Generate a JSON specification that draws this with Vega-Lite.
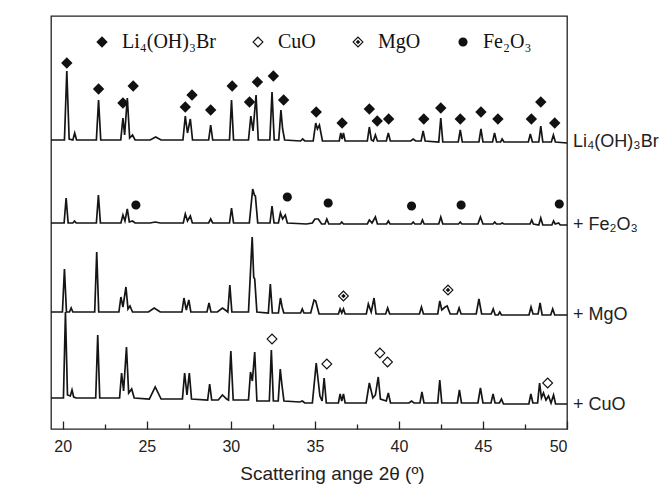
{
  "$schema": "https://vega.github.io/schema/vega-lite/v6.json",
  "autosize": "none",
  "width": 516,
  "height": 413,
  "padding": {"left": 51, "top": 16, "right": 101, "bottom": 56},
  "background": "white",
  "config": {
    "font": "Liberation Sans",
    "view": {"stroke": "#222", "strokeWidth": 1.3}
  },
  "datasets": {
    "traces": [
      {"sample":"Li4(OH)3Br","angle":19.3,"intensity":291},{"sample":"Li4(OH)3Br","angle":20.1,"intensity":291},{"sample":"Li4(OH)3Br","angle":20.24,"intensity":360},{"sample":"Li4(OH)3Br","angle":20.38,"intensity":292},{"sample":"Li4(OH)3Br","angle":20.6,"intensity":291},{"sample":"Li4(OH)3Br","angle":20.71,"intensity":298},{"sample":"Li4(OH)3Br","angle":20.82,"intensity":291},{"sample":"Li4(OH)3Br","angle":22.0,"intensity":291},{"sample":"Li4(OH)3Br","angle":22.13,"intensity":331},{"sample":"Li4(OH)3Br","angle":22.26,"intensity":291},{"sample":"Li4(OH)3Br","angle":23.45,"intensity":291},{"sample":"Li4(OH)3Br","angle":23.58,"intensity":313},{"sample":"Li4(OH)3Br","angle":23.68,"intensity":296},{"sample":"Li4(OH)3Br","angle":23.84,"intensity":333},{"sample":"Li4(OH)3Br","angle":23.98,"intensity":293},{"sample":"Li4(OH)3Br","angle":24.15,"intensity":296},{"sample":"Li4(OH)3Br","angle":24.3,"intensity":291},{"sample":"Li4(OH)3Br","angle":25.2,"intensity":291},{"sample":"Li4(OH)3Br","angle":25.53,"intensity":294},{"sample":"Li4(OH)3Br","angle":25.85,"intensity":291},{"sample":"Li4(OH)3Br","angle":27.15,"intensity":291},{"sample":"Li4(OH)3Br","angle":27.29,"intensity":315},{"sample":"Li4(OH)3Br","angle":27.42,"intensity":298},{"sample":"Li4(OH)3Br","angle":27.59,"intensity":312},{"sample":"Li4(OH)3Br","angle":27.72,"intensity":291},{"sample":"Li4(OH)3Br","angle":28.68,"intensity":291},{"sample":"Li4(OH)3Br","angle":28.8,"intensity":306},{"sample":"Li4(OH)3Br","angle":28.92,"intensity":291},{"sample":"Li4(OH)3Br","angle":29.92,"intensity":291},{"sample":"Li4(OH)3Br","angle":30.04,"intensity":331},{"sample":"Li4(OH)3Br","angle":30.16,"intensity":291},{"sample":"Li4(OH)3Br","angle":31.05,"intensity":291},{"sample":"Li4(OH)3Br","angle":31.19,"intensity":315},{"sample":"Li4(OH)3Br","angle":31.32,"intensity":300},{"sample":"Li4(OH)3Br","angle":31.5,"intensity":336},{"sample":"Li4(OH)3Br","angle":31.63,"intensity":291},{"sample":"Li4(OH)3Br","angle":32.32,"intensity":291},{"sample":"Li4(OH)3Br","angle":32.45,"intensity":339},{"sample":"Li4(OH)3Br","angle":32.58,"intensity":291},{"sample":"Li4(OH)3Br","angle":32.85,"intensity":291},{"sample":"Li4(OH)3Br","angle":32.98,"intensity":321},{"sample":"Li4(OH)3Br","angle":33.08,"intensity":302},{"sample":"Li4(OH)3Br","angle":33.2,"intensity":291},{"sample":"Li4(OH)3Br","angle":34.15,"intensity":290},{"sample":"Li4(OH)3Br","angle":34.27,"intensity":292},{"sample":"Li4(OH)3Br","angle":34.4,"intensity":290},{"sample":"Li4(OH)3Br","angle":34.9,"intensity":290},{"sample":"Li4(OH)3Br","angle":35.05,"intensity":308},{"sample":"Li4(OH)3Br","angle":35.15,"intensity":302},{"sample":"Li4(OH)3Br","angle":35.27,"intensity":306},{"sample":"Li4(OH)3Br","angle":35.45,"intensity":290},{"sample":"Li4(OH)3Br","angle":36.45,"intensity":290},{"sample":"Li4(OH)3Br","angle":36.54,"intensity":298},{"sample":"Li4(OH)3Br","angle":36.62,"intensity":292},{"sample":"Li4(OH)3Br","angle":36.7,"intensity":298},{"sample":"Li4(OH)3Br","angle":36.8,"intensity":290},{"sample":"Li4(OH)3Br","angle":38.12,"intensity":290},{"sample":"Li4(OH)3Br","angle":38.24,"intensity":304},{"sample":"Li4(OH)3Br","angle":38.36,"intensity":291},{"sample":"Li4(OH)3Br","angle":38.48,"intensity":290},{"sample":"Li4(OH)3Br","angle":38.6,"intensity":296},{"sample":"Li4(OH)3Br","angle":38.72,"intensity":290},{"sample":"Li4(OH)3Br","angle":39.25,"intensity":290},{"sample":"Li4(OH)3Br","angle":39.37,"intensity":298},{"sample":"Li4(OH)3Br","angle":39.49,"intensity":290},{"sample":"Li4(OH)3Br","angle":40.7,"intensity":290},{"sample":"Li4(OH)3Br","angle":40.85,"intensity":292},{"sample":"Li4(OH)3Br","angle":41.0,"intensity":290},{"sample":"Li4(OH)3Br","angle":41.32,"intensity":290},{"sample":"Li4(OH)3Br","angle":41.44,"intensity":300},{"sample":"Li4(OH)3Br","angle":41.56,"intensity":290},{"sample":"Li4(OH)3Br","angle":42.37,"intensity":289},{"sample":"Li4(OH)3Br","angle":42.49,"intensity":313},{"sample":"Li4(OH)3Br","angle":42.61,"intensity":289},{"sample":"Li4(OH)3Br","angle":43.53,"intensity":289},{"sample":"Li4(OH)3Br","angle":43.65,"intensity":301},{"sample":"Li4(OH)3Br","angle":43.77,"intensity":289},{"sample":"Li4(OH)3Br","angle":44.76,"intensity":289},{"sample":"Li4(OH)3Br","angle":44.88,"intensity":302},{"sample":"Li4(OH)3Br","angle":45.0,"intensity":289},{"sample":"Li4(OH)3Br","angle":45.57,"intensity":289},{"sample":"Li4(OH)3Br","angle":45.69,"intensity":298},{"sample":"Li4(OH)3Br","angle":45.81,"intensity":289},{"sample":"Li4(OH)3Br","angle":46.05,"intensity":289},{"sample":"Li4(OH)3Br","angle":46.14,"intensity":292},{"sample":"Li4(OH)3Br","angle":46.25,"intensity":289},{"sample":"Li4(OH)3Br","angle":47.7,"intensity":289},{"sample":"Li4(OH)3Br","angle":47.82,"intensity":297},{"sample":"Li4(OH)3Br","angle":47.94,"intensity":289},{"sample":"Li4(OH)3Br","angle":48.32,"intensity":289},{"sample":"Li4(OH)3Br","angle":48.44,"intensity":305},{"sample":"Li4(OH)3Br","angle":48.56,"intensity":289},{"sample":"Li4(OH)3Br","angle":49.07,"intensity":289},{"sample":"Li4(OH)3Br","angle":49.19,"intensity":296},{"sample":"Li4(OH)3Br","angle":49.31,"intensity":289},{"sample":"Li4(OH)3Br","angle":50.0,"intensity":288},

      {"sample":"+Fe2O3","angle":19.3,"intensity":208},{"sample":"+Fe2O3","angle":20.08,"intensity":208},{"sample":"+Fe2O3","angle":20.2,"intensity":233},{"sample":"+Fe2O3","angle":20.32,"intensity":208},{"sample":"+Fe2O3","angle":20.6,"intensity":208},{"sample":"+Fe2O3","angle":20.7,"intensity":210},{"sample":"+Fe2O3","angle":20.8,"intensity":208},{"sample":"+Fe2O3","angle":22.0,"intensity":208},{"sample":"+Fe2O3","angle":22.12,"intensity":236},{"sample":"+Fe2O3","angle":22.24,"intensity":208},{"sample":"+Fe2O3","angle":23.46,"intensity":208},{"sample":"+Fe2O3","angle":23.58,"intensity":216},{"sample":"+Fe2O3","angle":23.7,"intensity":210},{"sample":"+Fe2O3","angle":23.84,"intensity":222},{"sample":"+Fe2O3","angle":23.96,"intensity":209},{"sample":"+Fe2O3","angle":24.15,"intensity":210},{"sample":"+Fe2O3","angle":24.3,"intensity":208},{"sample":"+Fe2O3","angle":25.2,"intensity":208},{"sample":"+Fe2O3","angle":25.5,"intensity":209},{"sample":"+Fe2O3","angle":25.8,"intensity":208},{"sample":"+Fe2O3","angle":27.17,"intensity":208},{"sample":"+Fe2O3","angle":27.29,"intensity":217},{"sample":"+Fe2O3","angle":27.42,"intensity":210},{"sample":"+Fe2O3","angle":27.59,"intensity":215},{"sample":"+Fe2O3","angle":27.71,"intensity":208},{"sample":"+Fe2O3","angle":28.68,"intensity":208},{"sample":"+Fe2O3","angle":28.8,"intensity":212},{"sample":"+Fe2O3","angle":28.92,"intensity":208},{"sample":"+Fe2O3","angle":29.92,"intensity":208},{"sample":"+Fe2O3","angle":30.04,"intensity":223},{"sample":"+Fe2O3","angle":30.16,"intensity":208},{"sample":"+Fe2O3","angle":31.1,"intensity":208},{"sample":"+Fe2O3","angle":31.3,"intensity":242},{"sample":"+Fe2O3","angle":31.4,"intensity":236},{"sample":"+Fe2O3","angle":31.46,"intensity":235},{"sample":"+Fe2O3","angle":31.6,"intensity":208},{"sample":"+Fe2O3","angle":32.33,"intensity":208},{"sample":"+Fe2O3","angle":32.45,"intensity":225},{"sample":"+Fe2O3","angle":32.57,"intensity":208},{"sample":"+Fe2O3","angle":32.83,"intensity":208},{"sample":"+Fe2O3","angle":32.95,"intensity":218},{"sample":"+Fe2O3","angle":33.08,"intensity":212},{"sample":"+Fe2O3","angle":33.24,"intensity":216},{"sample":"+Fe2O3","angle":33.36,"intensity":208},{"sample":"+Fe2O3","angle":34.5,"intensity":207},{"sample":"+Fe2O3","angle":34.85,"intensity":208},{"sample":"+Fe2O3","angle":35.0,"intensity":212},{"sample":"+Fe2O3","angle":35.2,"intensity":212},{"sample":"+Fe2O3","angle":35.4,"intensity":207},{"sample":"+Fe2O3","angle":35.6,"intensity":207},{"sample":"+Fe2O3","angle":35.71,"intensity":212},{"sample":"+Fe2O3","angle":35.83,"intensity":207},{"sample":"+Fe2O3","angle":36.5,"intensity":207},{"sample":"+Fe2O3","angle":36.6,"intensity":209},{"sample":"+Fe2O3","angle":36.7,"intensity":207},{"sample":"+Fe2O3","angle":38.12,"intensity":207},{"sample":"+Fe2O3","angle":38.24,"intensity":211},{"sample":"+Fe2O3","angle":38.4,"intensity":208},{"sample":"+Fe2O3","angle":38.6,"intensity":214},{"sample":"+Fe2O3","angle":38.72,"intensity":207},{"sample":"+Fe2O3","angle":39.27,"intensity":207},{"sample":"+Fe2O3","angle":39.37,"intensity":210},{"sample":"+Fe2O3","angle":39.47,"intensity":207},{"sample":"+Fe2O3","angle":40.75,"intensity":207},{"sample":"+Fe2O3","angle":40.85,"intensity":209},{"sample":"+Fe2O3","angle":40.95,"intensity":207},{"sample":"+Fe2O3","angle":41.3,"intensity":207},{"sample":"+Fe2O3","angle":41.4,"intensity":211},{"sample":"+Fe2O3","angle":41.5,"intensity":207},{"sample":"+Fe2O3","angle":42.37,"intensity":207},{"sample":"+Fe2O3","angle":42.49,"intensity":214},{"sample":"+Fe2O3","angle":42.61,"intensity":207},{"sample":"+Fe2O3","angle":43.55,"intensity":207},{"sample":"+Fe2O3","angle":43.65,"intensity":209},{"sample":"+Fe2O3","angle":43.75,"intensity":207},{"sample":"+Fe2O3","angle":44.7,"intensity":207},{"sample":"+Fe2O3","angle":44.85,"intensity":214},{"sample":"+Fe2O3","angle":45.0,"intensity":207},{"sample":"+Fe2O3","angle":45.6,"intensity":207},{"sample":"+Fe2O3","angle":45.7,"intensity":209},{"sample":"+Fe2O3","angle":45.8,"intensity":207},{"sample":"+Fe2O3","angle":46.05,"intensity":207},{"sample":"+Fe2O3","angle":46.14,"intensity":208},{"sample":"+Fe2O3","angle":46.25,"intensity":207},{"sample":"+Fe2O3","angle":47.8,"intensity":207},{"sample":"+Fe2O3","angle":47.9,"intensity":211},{"sample":"+Fe2O3","angle":48.0,"intensity":207},{"sample":"+Fe2O3","angle":48.32,"intensity":206},{"sample":"+Fe2O3","angle":48.44,"intensity":213},{"sample":"+Fe2O3","angle":48.56,"intensity":206},{"sample":"+Fe2O3","angle":49.1,"intensity":206},{"sample":"+Fe2O3","angle":49.2,"intensity":210},{"sample":"+Fe2O3","angle":49.3,"intensity":207},{"sample":"+Fe2O3","angle":49.5,"intensity":208},{"sample":"+Fe2O3","angle":49.6,"intensity":206},{"sample":"+Fe2O3","angle":50.0,"intensity":206},

      {"sample":"+MgO","angle":19.3,"intensity":119},{"sample":"+MgO","angle":19.98,"intensity":119},{"sample":"+MgO","angle":20.1,"intensity":162},{"sample":"+MgO","angle":20.22,"intensity":119},{"sample":"+MgO","angle":20.4,"intensity":119},{"sample":"+MgO","angle":20.5,"intensity":123},{"sample":"+MgO","angle":20.6,"intensity":119},{"sample":"+MgO","angle":21.9,"intensity":119},{"sample":"+MgO","angle":22.02,"intensity":179},{"sample":"+MgO","angle":22.14,"intensity":119},{"sample":"+MgO","angle":23.34,"intensity":119},{"sample":"+MgO","angle":23.46,"intensity":134},{"sample":"+MgO","angle":23.58,"intensity":124},{"sample":"+MgO","angle":23.76,"intensity":144},{"sample":"+MgO","angle":23.88,"intensity":122},{"sample":"+MgO","angle":24.0,"intensity":125},{"sample":"+MgO","angle":24.15,"intensity":119},{"sample":"+MgO","angle":25.1,"intensity":119},{"sample":"+MgO","angle":25.44,"intensity":123},{"sample":"+MgO","angle":25.8,"intensity":119},{"sample":"+MgO","angle":27.09,"intensity":119},{"sample":"+MgO","angle":27.21,"intensity":133},{"sample":"+MgO","angle":27.35,"intensity":121},{"sample":"+MgO","angle":27.5,"intensity":131},{"sample":"+MgO","angle":27.62,"intensity":119},{"sample":"+MgO","angle":28.58,"intensity":119},{"sample":"+MgO","angle":28.7,"intensity":128},{"sample":"+MgO","angle":28.82,"intensity":119},{"sample":"+MgO","angle":29.2,"intensity":119},{"sample":"+MgO","angle":29.5,"intensity":123},{"sample":"+MgO","angle":29.75,"intensity":120},{"sample":"+MgO","angle":29.82,"intensity":119},{"sample":"+MgO","angle":29.94,"intensity":146},{"sample":"+MgO","angle":30.06,"intensity":119},{"sample":"+MgO","angle":31.05,"intensity":119},{"sample":"+MgO","angle":31.27,"intensity":194},{"sample":"+MgO","angle":31.36,"intensity":154},{"sample":"+MgO","angle":31.42,"intensity":152},{"sample":"+MgO","angle":31.55,"intensity":119},{"sample":"+MgO","angle":32.23,"intensity":118},{"sample":"+MgO","angle":32.35,"intensity":147},{"sample":"+MgO","angle":32.47,"intensity":118},{"sample":"+MgO","angle":32.83,"intensity":118},{"sample":"+MgO","angle":32.95,"intensity":133},{"sample":"+MgO","angle":33.05,"intensity":124},{"sample":"+MgO","angle":33.15,"intensity":118},{"sample":"+MgO","angle":34.15,"intensity":118},{"sample":"+MgO","angle":34.25,"intensity":122},{"sample":"+MgO","angle":34.35,"intensity":118},{"sample":"+MgO","angle":34.75,"intensity":118},{"sample":"+MgO","angle":34.95,"intensity":131},{"sample":"+MgO","angle":35.05,"intensity":130},{"sample":"+MgO","angle":35.25,"intensity":117},{"sample":"+MgO","angle":36.4,"intensity":117},{"sample":"+MgO","angle":36.5,"intensity":122},{"sample":"+MgO","angle":36.6,"intensity":118},{"sample":"+MgO","angle":36.7,"intensity":122},{"sample":"+MgO","angle":36.8,"intensity":117},{"sample":"+MgO","angle":38.06,"intensity":117},{"sample":"+MgO","angle":38.18,"intensity":127},{"sample":"+MgO","angle":38.35,"intensity":119},{"sample":"+MgO","angle":38.52,"intensity":133},{"sample":"+MgO","angle":38.64,"intensity":117},{"sample":"+MgO","angle":39.21,"intensity":117},{"sample":"+MgO","angle":39.33,"intensity":123},{"sample":"+MgO","angle":39.45,"intensity":117},{"sample":"+MgO","angle":41.22,"intensity":117},{"sample":"+MgO","angle":41.34,"intensity":124},{"sample":"+MgO","angle":41.46,"intensity":117},{"sample":"+MgO","angle":42.31,"intensity":117},{"sample":"+MgO","angle":42.43,"intensity":130},{"sample":"+MgO","angle":42.55,"intensity":121},{"sample":"+MgO","angle":42.75,"intensity":124},{"sample":"+MgO","angle":42.87,"intensity":125},{"sample":"+MgO","angle":43.05,"intensity":117},{"sample":"+MgO","angle":43.46,"intensity":117},{"sample":"+MgO","angle":43.58,"intensity":123},{"sample":"+MgO","angle":43.7,"intensity":117},{"sample":"+MgO","angle":44.6,"intensity":117},{"sample":"+MgO","angle":44.76,"intensity":132},{"sample":"+MgO","angle":44.92,"intensity":117},{"sample":"+MgO","angle":45.49,"intensity":117},{"sample":"+MgO","angle":45.61,"intensity":122},{"sample":"+MgO","angle":45.73,"intensity":116},{"sample":"+MgO","angle":45.9,"intensity":116},{"sample":"+MgO","angle":46.0,"intensity":119},{"sample":"+MgO","angle":46.1,"intensity":116},{"sample":"+MgO","angle":47.74,"intensity":116},{"sample":"+MgO","angle":47.86,"intensity":124},{"sample":"+MgO","angle":47.98,"intensity":117},{"sample":"+MgO","angle":48.28,"intensity":117},{"sample":"+MgO","angle":48.4,"intensity":128},{"sample":"+MgO","angle":48.52,"intensity":116},{"sample":"+MgO","angle":49.03,"intensity":116},{"sample":"+MgO","angle":49.15,"intensity":122},{"sample":"+MgO","angle":49.27,"intensity":116},{"sample":"+MgO","angle":50.0,"intensity":116},

      {"sample":"+CuO","angle":19.3,"intensity":33},{"sample":"+CuO","angle":20.04,"intensity":33},{"sample":"+CuO","angle":20.16,"intensity":119},{"sample":"+CuO","angle":20.28,"intensity":36},{"sample":"+CuO","angle":20.45,"intensity":35},{"sample":"+CuO","angle":20.55,"intensity":41},{"sample":"+CuO","angle":20.65,"intensity":34},{"sample":"+CuO","angle":20.8,"intensity":33},{"sample":"+CuO","angle":21.96,"intensity":33},{"sample":"+CuO","angle":22.08,"intensity":96},{"sample":"+CuO","angle":22.2,"intensity":33},{"sample":"+CuO","angle":23.38,"intensity":33},{"sample":"+CuO","angle":23.5,"intensity":58},{"sample":"+CuO","angle":23.62,"intensity":40},{"sample":"+CuO","angle":23.79,"intensity":84},{"sample":"+CuO","angle":23.92,"intensity":38},{"sample":"+CuO","angle":24.1,"intensity":42},{"sample":"+CuO","angle":24.25,"intensity":33},{"sample":"+CuO","angle":25.15,"intensity":32},{"sample":"+CuO","angle":25.5,"intensity":44},{"sample":"+CuO","angle":25.85,"intensity":32},{"sample":"+CuO","angle":27.12,"intensity":32},{"sample":"+CuO","angle":27.25,"intensity":58},{"sample":"+CuO","angle":27.39,"intensity":36},{"sample":"+CuO","angle":27.53,"intensity":58},{"sample":"+CuO","angle":27.66,"intensity":32},{"sample":"+CuO","angle":28.62,"intensity":31},{"sample":"+CuO","angle":28.74,"intensity":47},{"sample":"+CuO","angle":28.86,"intensity":31},{"sample":"+CuO","angle":29.25,"intensity":31},{"sample":"+CuO","angle":29.5,"intensity":36},{"sample":"+CuO","angle":29.75,"intensity":32},{"sample":"+CuO","angle":29.86,"intensity":31},{"sample":"+CuO","angle":30.0,"intensity":80},{"sample":"+CuO","angle":30.14,"intensity":31},{"sample":"+CuO","angle":31.05,"intensity":31},{"sample":"+CuO","angle":31.17,"intensity":59},{"sample":"+CuO","angle":31.28,"intensity":50},{"sample":"+CuO","angle":31.42,"intensity":79},{"sample":"+CuO","angle":31.55,"intensity":30},{"sample":"+CuO","angle":32.29,"intensity":30},{"sample":"+CuO","angle":32.41,"intensity":81},{"sample":"+CuO","angle":32.53,"intensity":30},{"sample":"+CuO","angle":32.82,"intensity":30},{"sample":"+CuO","angle":32.94,"intensity":62},{"sample":"+CuO","angle":33.04,"intensity":46},{"sample":"+CuO","angle":33.16,"intensity":30},{"sample":"+CuO","angle":34.1,"intensity":29},{"sample":"+CuO","angle":34.25,"intensity":30},{"sample":"+CuO","angle":34.4,"intensity":28},{"sample":"+CuO","angle":34.85,"intensity":28},{"sample":"+CuO","angle":35.08,"intensity":68},{"sample":"+CuO","angle":35.3,"intensity":35},{"sample":"+CuO","angle":35.43,"intensity":30},{"sample":"+CuO","angle":35.55,"intensity":53},{"sample":"+CuO","angle":35.68,"intensity":28},{"sample":"+CuO","angle":36.4,"intensity":28},{"sample":"+CuO","angle":36.5,"intensity":37},{"sample":"+CuO","angle":36.6,"intensity":30},{"sample":"+CuO","angle":36.7,"intensity":37},{"sample":"+CuO","angle":36.8,"intensity":28},{"sample":"+CuO","angle":38.05,"intensity":28},{"sample":"+CuO","angle":38.24,"intensity":48},{"sample":"+CuO","angle":38.45,"intensity":33},{"sample":"+CuO","angle":38.6,"intensity":36},{"sample":"+CuO","angle":38.77,"intensity":54},{"sample":"+CuO","angle":38.9,"intensity":32},{"sample":"+CuO","angle":39.25,"intensity":30},{"sample":"+CuO","angle":39.37,"intensity":38},{"sample":"+CuO","angle":39.5,"intensity":28},{"sample":"+CuO","angle":40.6,"intensity":28},{"sample":"+CuO","angle":40.75,"intensity":30},{"sample":"+CuO","angle":40.9,"intensity":28},{"sample":"+CuO","angle":41.25,"intensity":28},{"sample":"+CuO","angle":41.37,"intensity":39},{"sample":"+CuO","angle":41.49,"intensity":28},{"sample":"+CuO","angle":42.31,"intensity":28},{"sample":"+CuO","angle":42.43,"intensity":51},{"sample":"+CuO","angle":42.55,"intensity":28},{"sample":"+CuO","angle":43.48,"intensity":28},{"sample":"+CuO","angle":43.6,"intensity":41},{"sample":"+CuO","angle":43.72,"intensity":28},{"sample":"+CuO","angle":44.7,"intensity":28},{"sample":"+CuO","angle":44.85,"intensity":43},{"sample":"+CuO","angle":45.0,"intensity":28},{"sample":"+CuO","angle":45.48,"intensity":28},{"sample":"+CuO","angle":45.6,"intensity":37},{"sample":"+CuO","angle":45.72,"intensity":28},{"sample":"+CuO","angle":45.98,"intensity":28},{"sample":"+CuO","angle":46.1,"intensity":32},{"sample":"+CuO","angle":46.22,"intensity":27},{"sample":"+CuO","angle":47.73,"intensity":27},{"sample":"+CuO","angle":47.85,"intensity":37},{"sample":"+CuO","angle":47.97,"intensity":28},{"sample":"+CuO","angle":48.25,"intensity":28},{"sample":"+CuO","angle":48.37,"intensity":48},{"sample":"+CuO","angle":48.48,"intensity":33},{"sample":"+CuO","angle":48.6,"intensity":38},{"sample":"+CuO","angle":48.75,"intensity":31},{"sample":"+CuO","angle":48.9,"intensity":35},{"sample":"+CuO","angle":49.05,"intensity":28},{"sample":"+CuO","angle":49.2,"intensity":36},{"sample":"+CuO","angle":49.32,"intensity":27},{"sample":"+CuO","angle":50.0,"intensity":27}
    ],
    "markers": [
      {"phase":"Li₄(OH)₃Br","angle":20.24,"intensity":368},{"phase":"Li₄(OH)₃Br","angle":22.13,"intensity":342},{"phase":"Li₄(OH)₃Br","angle":23.58,"intensity":328},{"phase":"Li₄(OH)₃Br","angle":24.19,"intensity":345},{"phase":"Li₄(OH)₃Br","angle":27.29,"intensity":324},{"phase":"Li₄(OH)₃Br","angle":27.69,"intensity":336},{"phase":"Li₄(OH)₃Br","angle":28.8,"intensity":321},{"phase":"Li₄(OH)₃Br","angle":30.08,"intensity":345},{"phase":"Li₄(OH)₃Br","angle":31.11,"intensity":329},{"phase":"Li₄(OH)₃Br","angle":31.58,"intensity":349},{"phase":"Li₄(OH)₃Br","angle":32.53,"intensity":355},{"phase":"Li₄(OH)₃Br","angle":33.14,"intensity":331},{"phase":"Li₄(OH)₃Br","angle":35.08,"intensity":319},{"phase":"Li₄(OH)₃Br","angle":36.62,"intensity":308},{"phase":"Li₄(OH)₃Br","angle":38.24,"intensity":322},{"phase":"Li₄(OH)₃Br","angle":38.71,"intensity":310},{"phase":"Li₄(OH)₃Br","angle":39.39,"intensity":312},{"phase":"Li₄(OH)₃Br","angle":41.48,"intensity":312},{"phase":"Li₄(OH)₃Br","angle":42.49,"intensity":323},{"phase":"Li₄(OH)₃Br","angle":43.65,"intensity":312},{"phase":"Li₄(OH)₃Br","angle":44.88,"intensity":319},{"phase":"Li₄(OH)₃Br","angle":45.89,"intensity":312},{"phase":"Li₄(OH)₃Br","angle":47.88,"intensity":312},{"phase":"Li₄(OH)₃Br","angle":48.44,"intensity":329},{"phase":"Li₄(OH)₃Br","angle":49.27,"intensity":308},
      {"phase":"CuO","angle":32.45,"intensity":92},{"phase":"CuO","angle":35.71,"intensity":67},{"phase":"CuO","angle":38.87,"intensity":78},{"phase":"CuO","angle":39.32,"intensity":69},{"phase":"CuO","angle":48.85,"intensity":48},
      {"phase":"MgO","angle":36.7,"intensity":135},{"phase":"MgO","angle":42.92,"intensity":141},
      {"phase":"Fe₂O₃","angle":24.35,"intensity":226},{"phase":"Fe₂O₃","angle":33.36,"intensity":234},{"phase":"Fe₂O₃","angle":35.79,"intensity":228},{"phase":"Fe₂O₃","angle":40.75,"intensity":225},{"phase":"Fe₂O₃","angle":43.7,"intensity":226},{"phase":"Fe₂O₃","angle":49.54,"intensity":227}
    ],
    "labels": [
      {"label":"Li₄(OH)₃Br","angle":50,"intensity":289},
      {"label":"+ Fe₂O₃","angle":50,"intensity":206},
      {"label":"+ MgO","angle":50,"intensity":116},
      {"label":"+ CuO","angle":50,"intensity":26}
    ]
  },
  "resolve": {"axis": {"x": "independent"}},
  "layer": [
    {
      "data": {"name": "traces"},
      "mark": {"type": "line", "color": "#151515", "strokeWidth": 1.7, "interpolate": "linear"},
      "encoding": {
        "x": {"field": "angle", "type": "quantitative", "scale": {"domain": [19.3, 50], "nice": false, "zero": false},
              "axis": {"orient": "bottom", "values": [20, 25, 30, 35, 40, 45, 50], "domain": false, "grid": false, "tickSize": -8, "tickWidth": 1.3, "tickColor": "#222",
                       "labelFontSize": 16, "labelColor": "#222", "labelPadding": 17, "labelFont": "Liberation Sans",
                       "title": "Scattering ange 2θ (º)", "titleFontSize": 19, "titleFontWeight": "normal", "titleColor": "#222", "titlePadding": 10, "titleX": 281, "titleFont": "Liberation Sans"}},
        "y": {"field": "intensity", "type": "quantitative", "scale": {"domain": [2, 415], "nice": false, "zero": false},
              "axis": {"title": "Intensity (a.u.)", "labels": false, "ticks": false, "domain": false, "grid": false, "titleFontSize": 20, "titleFontWeight": "normal", "titleColor": "#222", "titlePadding": 26, "titleFont": "Liberation Sans"}},
        "detail": {"field": "sample", "type": "nominal"}
      }
    },
    {
      "data": {"name": "markers"},
      "mark": {"type": "point", "filled": true, "opacity": 1, "color": "#111", "strokeWidth": 0, "size": 130},
      "encoding": {
        "x": {"field": "angle", "type": "quantitative",
              "axis": {"orient": "bottom", "values": [22.5, 27.5, 32.5, 37.5, 42.5, 47.5], "labels": false, "domain": false, "grid": false, "title": null, "tickSize": -5, "tickWidth": 1.3, "tickColor": "#222"}},
        "y": {"field": "intensity", "type": "quantitative"},
        "shape": {"field": "phase", "type": "nominal",
                  "scale": {"domain": ["Li₄(OH)₃Br", "CuO", "MgO", "Fe₂O₃"],
                            "range": ["diamond", "M-1,0L0,-1L1,0L0,1Z M-0.72,0L0,0.72L0.72,0L0,-0.72Z", "M-1,0L0,-1L1,0L0,1Z M-0.72,0L0,0.72L0.72,0L0,-0.72Z M-0.4,0L0,-0.4L0.4,0L0,0.4Z", "M0.8,0A0.8,0.8 0 1,1 -0.8,0A0.8,0.8 0 1,1 0.8,0Z"]},
                  "legend": {"orient": "none", "legendX": 41, "legendY": 16, "direction": "horizontal", "title": null, "padding": 0,
                             "labelFont": "Liberation Serif", "labelFontSize": 20, "labelColor": "#111", "labelOffset": 10,
                             "symbolSize": 130, "symbolFillColor": "#111", "symbolStrokeWidth": 0, "symbolStrokeColor": "#111", "symbolOpacity": 1, "columnPadding": 32}}
      }
    },
    {
      "data": {"name": "labels"},
      "mark": {"type": "text", "align": "left", "baseline": "middle", "dx": 6, "fontSize": 18, "font": "Liberation Sans", "color": "#222", "clip": false},
      "encoding": {
        "x": {"field": "angle", "type": "quantitative", "axis": null},
        "y": {"field": "intensity", "type": "quantitative", "axis": null},
        "text": {"field": "label"}
      }
    }
  ]
}
